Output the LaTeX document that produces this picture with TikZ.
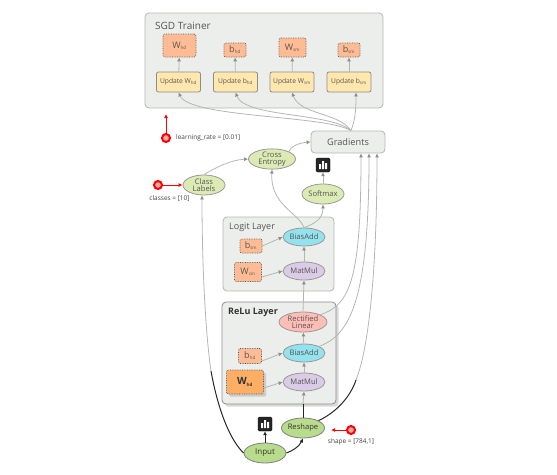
\documentclass[tikz,border=0pt]{standalone}
\usepackage{fontspec}
\setmainfont{Open Sans}
\usetikzlibrary{arrows.meta,shapes.geometric,shadows}
\definecolor{panelgray}{HTML}{ECEEEC}
\definecolor{linegray}{HTML}{B4B6B4}
\definecolor{tipgray}{HTML}{8C8E8C}
\definecolor{txtgray}{HTML}{555555}
\definecolor{varorange}{HTML}{FFBC94}
\definecolor{hotorange}{HTML}{FFAE66}
\definecolor{updyellow}{HTML}{FFE7AE}
\definecolor{opgreen}{HTML}{DCEBB4}
\definecolor{hotgreen}{HTML}{B9DC8C}
\definecolor{opblue}{HTML}{93E2EE}
\definecolor{oppurple}{HTML}{DACBE6}
\definecolor{oppink}{HTML}{FFBDB6}
\newcommand{\subtxt}[1]{\textsubscript{\fontsize{4.5}{5}\selectfont #1}}

\begin{document}
\begin{tikzpicture}[x=1pt, y=-1pt, every node/.style={text=txtgray, inner sep=0pt, align=center},
panel/.style={draw=linegray, line width=0.8pt, rounded corners=4pt, fill=panelgray},
ttl/.style={anchor=west, font=\fontsize{9}{10}\selectfont},
vr/.style={draw=black!65, densely dotted, line width=0.7pt, rounded corners=2pt, fill=varorange, font=\fontsize{9}{10}\selectfont},
upd/.style={draw=black!45, line width=0.8pt, rounded corners=2pt, fill=updyellow, minimum width=44pt, minimum height=20pt, font=\fontsize{6.7}{8}\selectfont},
op/.style={ellipse, draw=black!40, line width=0.8pt, minimum width=42pt, minimum height=20pt, font=\fontsize{7.6}{8}\selectfont},
stat/.style={draw=black, fill=black!85, rounded corners=1.5pt, minimum size=14pt},
ring/.style={circle, draw=red, line width=2pt, fill=red!35, minimum size=8pt},
lbl/.style={font=\fontsize{6.5}{7}\selectfont, text=black!75},
arr/.style={draw=linegray, line width=0.8pt, -{Latex[length=4pt,width=4pt,color=tipgray]}},
blk/.style={draw=black!85, line width=1pt},
blkarr/.style={blk, -{Latex[length=4pt,width=4pt]}},
redarr/.style={draw=red, line width=1pt, -{Latex[length=4pt,width=4pt]}}]
\useasboundingbox (0,0) rectangle (557,474);

% panels
\node[panel, minimum width=238pt, minimum height=95pt] (sgd) at (264,60.5) {};
\node[panel, minimum width=111pt, minimum height=74pt] (logit) at (278.5,254) {};
\node[panel, drop shadow={opacity=0.3}, draw=black!45, minimum width=114pt, minimum height=102pt] (relu) at (279,353) {};
\node[ttl, font=\fontsize{10}{11}\selectfont] at (155,26) {SGD Trainer};
\node[ttl] at (229,227) {Logit Layer};
\node[ttl, text=black!80] at (228,312) {\bfseries ReLu Layer};

% trainer
\node[vr, minimum width=33pt, minimum height=23pt] (whd) at (179.5,45.5) {W\subtxt{hd}};
\node[vr, minimum width=22pt, minimum height=14pt] (bhd) at (235,50) {b\subtxt{hd}};
\node[vr, minimum width=27pt, minimum height=19pt] (wsm) at (292.5,47.5) {W\subtxt{sm}};
\node[vr, minimum width=22pt, minimum height=14pt] (bsm) at (349,50) {b\subtxt{sm}};
\node[upd] (uwhd) at (178.5,82) {Update W\subtxt{hd}};
\node[upd] (ubhd) at (235.5,82) {Update b\subtxt{hd}};
\node[upd] (uwsm) at (292,82) {Update W\subtxt{sm}};
\node[upd] (ubsm) at (349,82) {Update b\subtxt{sm}};
\node[draw=linegray, line width=0.8pt, fill=panelgray, rounded corners=4pt, minimum width=74pt, minimum height=22pt, font=\fontsize{9.2}{10}\selectfont] (grads) at (348,142) {Gradients};

% ops
\node[op, fill=opgreen, minimum width=47pt] (cross) at (272,159) {Cross\\[-1pt]Entropy};
\node[op, fill=opgreen] (labels) at (204,185) {Class\\[-1pt]Labels};
\node[op, fill=opgreen] (softmax) at (323,194) {Softmax};
\node[op, fill=opblue, minimum height=18pt] (biaslogit) at (304,237) {BiasAdd};
\node[op, fill=oppurple, minimum height=18pt] (matlogit) at (304,271) {MatMul};
\node[vr, minimum width=22pt, minimum height=14pt] (blogit) at (251,246) {b\subtxt{sm}};
\node[vr, minimum width=27pt, minimum height=19pt] (wlogit) at (248,272) {W\subtxt{sm}};
\node[op, fill=oppink, minimum width=48pt] (rect) at (303,322) {Rectified\\[-1pt]Linear};
\node[op, fill=opblue, minimum height=18pt] (biasrelu) at (304,353) {BiasAdd};
\node[op, fill=oppurple, minimum height=18pt] (matrelu) at (304,382) {MatMul};
\node[vr, minimum width=23pt, minimum height=15pt] (brelu) at (250,356) {b\subtxt{hd}};
\node[vr, fill=hotorange, drop shadow={opacity=0.3}, minimum width=37pt, minimum height=24pt, text=black!80, font=\fontsize{10}{11}\selectfont\bfseries] (wrelu) at (245,382) {W\subtxt{hd}};
\node[op, fill=hotgreen, text=black!80, draw=black!50] (reshape) at (303,428) {Reshape};
\node[op, fill=hotgreen, text=black!80, draw=black!50, font=\fontsize{8}{9}\selectfont] (input) at (265,453) {Input};

% summaries
\foreach \nm/\cx/\cy in {stattop/323/165, statlow/265/424} {
  \node[stat] (\nm) at (\cx,\cy) {};
  \fill[white] (\cx-4,\cy+4) rectangle ++(2,-5) (\cx-1,\cy+4) rectangle ++(2,-8) (\cx+2,\cy+4) rectangle ++(2,-6);
}

% params
\node[ring] (lr) at (166,138) {};
\coordinate (lrend) at (166,114);
\node[lbl, anchor=west] at (176,138) {learning\_rate = [0.01]};
\node[ring] (cls) at (158,185) {};
\node[lbl] at (169.5,199) {classes = [10]};
\node[ring] (shp) at (351,430) {};
\coordinate (shpend) at (331,430);
\node[lbl] at (351,442) {shape = [784,1]};
\draw[redarr] (lr) -- (lrend);
\draw[redarr] (cls) -- (labels);
\draw[redarr] (shp) -- (shpend);

% trainer edges
\foreach \src/\dst in {uwhd/whd, ubhd/bhd, uwsm/wsm, ubsm/bsm} {
  \draw[arr] (\src) -- (\dst);
}
\coordinate (gtop) at ([xshift=3pt]grads.north);
\draw[arr] (gtop) .. controls (325,115) and (190,118) .. (uwhd.south);
\draw[arr] (gtop) .. controls (330,112) and (245,118) .. (ubhd.south);
\draw[arr] (gtop) .. controls (338,112) and (300,115) .. (uwsm.south);
\draw[arr] (gtop) .. controls (356,118) and (356,105) .. ([xshift=7pt]ubsm.south);

% graph edges
\draw[arr] (labels.north) .. controls (215,168) and (230,160) .. (cross.west);
\draw[arr] (cross.north east) .. controls (290,147) and (298,143) .. (grads.west);
\draw[arr] (biaslogit.north) .. controls (298,212) and (270,205) .. (cross.south);
\draw[arr] (biaslogit.north) .. controls (320,222) and (323,215) .. (softmax.south);
\draw[arr] (softmax) -- (stattop);
\draw[arr] (matlogit) -- (biaslogit);
\draw[arr] (blogit.east) -- (biaslogit.west);
\draw[arr] ([yshift=-5pt]wlogit.east) -- (matlogit.west);
\draw[arr] (rect.north) -- (matlogit.south);
\draw[arr] (biasrelu) -- (rect);
\draw[arr] (matrelu) -- (biasrelu);
\draw[arr] ([yshift=-5pt]brelu.east) -- (biasrelu.west);
\draw[arr] ([yshift=-6pt]wrelu.east) -- (matrelu.west);
\draw[arr] (rect.north east) .. controls (350,305) and (361,280) .. ([xshift=13pt]grads.south);
\draw[arr] (biasrelu.north east) .. controls (350,335) and (369,300) .. ([xshift=21pt]grads.south);

% black parts of the live path
\coordinate (inmid) at (211,371);
\coordinate (rshmid) at (356,380);
\coordinate (relubot) at (303,404);
\draw[arr] (inmid) .. controls (205,330) and (202,260) .. ([xshift=-2pt]labels.south);
\draw[blk] (input.west) .. controls (230,440) and (218,410) .. (inmid);
\draw[arr] (rshmid) .. controls (370,345) and (377,260) .. ([xshift=29pt]grads.south);
\draw[blk] (reshape.north east) .. controls (335,413) and (350,398) .. (rshmid);
\draw[arr] (relubot) -- (matrelu.south);
\draw[blk] (reshape.north) -- (relubot);
\draw[blkarr] (input.north) -- (statlow);
\draw[blkarr] (input.east) .. controls (292,451) and (299,447) .. (reshape.south);
\end{tikzpicture}
\end{document}
